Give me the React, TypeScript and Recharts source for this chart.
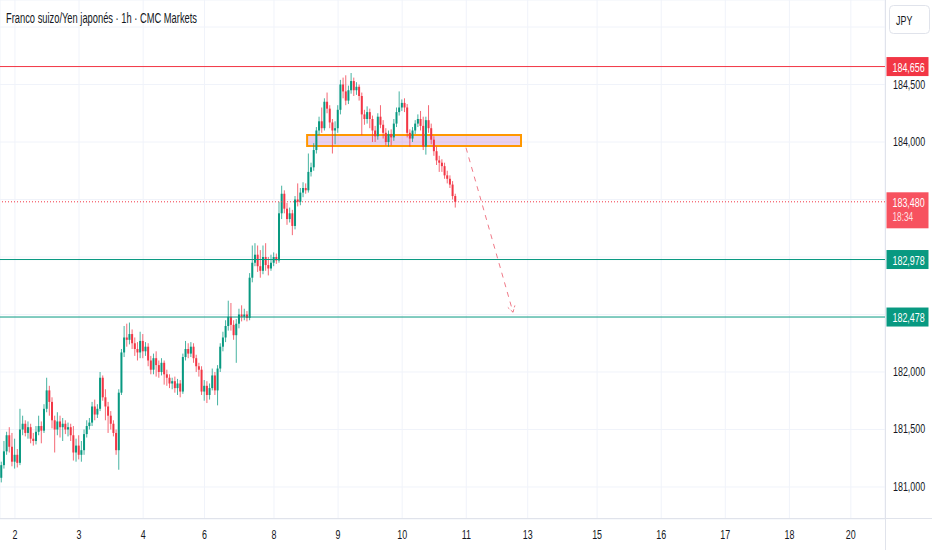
import { Bar, CartesianGrid, ComposedChart, ReferenceArea, ReferenceLine, XAxis, YAxis } from 'recharts';

// hourly candles, [open, high, low, close], grouped by session
const sessionDay1Tail = [
  [181.08, 181.22, 181.04, 181.19],
  [181.19, 181.4, 181.16, 181.31],
  [181.31, 181.48, 181.28, 181.45],
  [181.45, 181.52, 181.3, 181.35],
  [181.35, 181.47, 181.18, 181.22],
];

const sessionDay2 = [
  [181.22, 181.42, 181.16, 181.28],
  [181.28, 181.33, 181.17, 181.21],
  [181.21, 181.68, 181.19, 181.5],
  [181.5, 181.62, 181.45, 181.55],
  [181.55, 181.58, 181.44, 181.47],
  [181.47, 181.57, 181.42, 181.52],
  [181.52, 181.55, 181.38, 181.42],
  [181.42, 181.47, 181.36, 181.4],
  [181.4, 181.53, 181.37, 181.48],
  [181.48, 181.62, 181.45, 181.53],
  [181.53, 181.57, 181.38, 181.49],
  [181.49, 181.72, 181.47, 181.68],
  [181.68, 181.95, 181.65, 181.84],
  [181.84, 181.88, 181.62, 181.74],
  [181.74, 181.78, 181.51, 181.58],
  [181.58, 181.62, 181.3, 181.5],
  [181.5, 181.65, 181.45, 181.57],
  [181.57, 181.62, 181.43, 181.52],
  [181.52, 181.6, 181.4, 181.55],
  [181.55, 181.58, 181.46, 181.5],
  [181.5, 181.56, 181.44, 181.52],
  [181.52, 181.55, 181.4, 181.45],
  [181.45, 181.53, 181.23, 181.3],
  [181.3, 181.42, 181.22, 181.36],
];

const sessionDay3 = [
  [181.36, 181.45, 181.24, 181.28],
  [181.28, 181.4, 181.22, 181.32],
  [181.32, 181.5, 181.28, 181.46],
  [181.46, 181.58, 181.43, 181.53],
  [181.53, 181.6, 181.5, 181.56],
  [181.56, 181.74, 181.53, 181.7],
  [181.7, 181.76, 181.58, 181.63],
  [181.63, 181.72, 181.6, 181.68],
  [181.68, 182.0, 181.66, 181.95],
  [181.95, 181.97, 181.75, 181.78],
  [181.78, 181.85, 181.58, 181.7],
  [181.7, 181.74, 181.47, 181.62],
  [181.62, 181.66, 181.5, 181.55],
  [181.55, 181.58, 181.44, 181.47],
  [181.47, 181.5, 181.28, 181.32],
  [181.32, 181.85, 181.15, 181.82],
  [181.82, 182.2, 181.8, 182.17],
  [182.17, 182.4, 182.13, 182.3],
  [182.3, 182.42, 182.22, 182.28],
  [182.28, 182.43, 182.24, 182.33],
  [182.33, 182.37, 182.2, 182.25],
  [182.25, 182.3, 182.14, 182.2],
  [182.2, 182.26, 182.1, 182.17],
  [182.17, 182.35, 182.12, 182.27],
];

const sessionDay4 = [
  [182.27, 182.33, 182.12, 182.18],
  [182.18, 182.26, 182.14, 182.22],
  [182.22, 182.25, 182.05, 182.1],
  [182.1, 182.14, 181.98, 182.02],
  [182.02, 182.16, 181.98, 182.12],
  [182.12, 182.18, 181.96, 182.06],
  [182.06, 182.1, 181.95, 182.0],
  [182.0, 182.12, 181.97, 182.08],
  [182.08, 182.1, 181.89, 181.98],
  [181.98, 182.02, 181.88, 181.95],
  [181.95, 181.98, 181.86, 181.9],
  [181.9, 181.95, 181.85, 181.92],
  [181.92, 181.96, 181.82, 181.86],
  [181.86, 181.94, 181.8, 181.9],
  [181.9, 181.93, 181.78, 181.83],
  [181.83, 182.16, 181.81, 182.13],
  [182.13, 182.27, 182.1, 182.2],
  [182.2, 182.25, 182.12, 182.16],
  [182.16, 182.26, 182.13, 182.22],
  [182.22, 182.25, 182.08, 182.12],
  [182.12, 182.15, 182.0, 182.05],
  [182.05, 182.08, 181.96, 182.02],
  [182.02, 182.05, 181.8, 181.83],
];

const sessionDay6 = [
  [181.83, 181.93, 181.75, 181.88],
  [181.88, 181.92, 181.73, 181.8],
  [181.8, 181.9, 181.76, 181.86],
  [181.86, 182.03, 181.84, 181.97],
  [181.97, 182.0, 181.8, 181.84],
  [181.84, 182.06, 181.71, 182.03],
  [182.03, 182.25, 182.0, 182.22],
  [182.22, 182.35, 182.18, 182.3],
  [182.3, 182.45, 182.26, 182.4],
  [182.4, 182.62, 182.36, 182.48],
  [182.48, 182.6, 182.36, 182.41],
  [182.41, 182.45, 182.28, 182.32],
  [182.32, 182.46, 182.08, 182.42],
  [182.42, 182.55, 182.38, 182.5],
  [182.5, 182.58, 182.44, 182.48],
  [182.48, 182.55, 182.45, 182.5],
  [182.5, 182.53, 182.44, 182.47],
  [182.47, 182.86, 182.45, 182.82],
  [182.82, 183.1, 182.78, 182.95],
  [182.95, 183.12, 182.92, 183.02],
  [183.02, 183.1, 182.87, 182.92],
  [182.92, 183.06, 182.82, 182.88],
  [182.88, 183.1, 182.85, 183.0],
  [183.0, 183.12, 182.88, 182.93],
  [182.93, 183.0, 182.84, 182.9],
  [182.9, 183.02, 182.88, 182.95],
];

const sessionDay8 = [
  [182.95, 183.04, 182.92, 183.0],
  [183.0, 183.03, 182.94, 182.97],
  [182.97, 183.48, 182.95, 183.38],
  [183.38, 183.62, 183.33, 183.55],
  [183.55, 183.58, 183.38, 183.42],
  [183.42, 183.47, 183.28, 183.33],
  [183.33, 183.43, 183.3, 183.38],
  [183.38, 183.41, 183.19, 183.27],
  [183.27, 183.53, 183.24, 183.5],
  [183.5, 183.64, 183.44, 183.48],
  [183.48, 183.6, 183.45, 183.56],
  [183.56, 183.65, 183.52, 183.6],
  [183.6, 183.64, 183.55, 183.58],
  [183.58, 183.9, 183.56, 183.74],
  [183.74, 183.82, 183.7, 183.78],
  [183.78, 183.99, 183.75, 183.93],
  [183.93, 184.13, 183.9, 184.1],
  [184.1, 184.22, 184.06, 184.18],
  [184.18, 184.3, 184.08, 184.12],
  [184.12, 184.38, 184.1, 184.35],
  [184.35, 184.43, 184.25, 184.29],
  [184.29, 184.32, 184.12, 184.17],
  [184.17, 184.2, 183.9, 184.1],
  [184.1, 184.18, 183.98, 184.12],
];

const sessionDay9 = [
  [184.12, 184.32, 184.08, 184.28],
  [184.28, 184.54, 184.24, 184.5],
  [184.5, 184.56, 184.38, 184.44],
  [184.44, 184.58, 184.32, 184.36],
  [184.36, 184.49, 184.33, 184.45],
  [184.45, 184.6, 184.42, 184.53],
  [184.53, 184.56, 184.4, 184.45],
  [184.45, 184.52, 184.41, 184.48],
  [184.48, 184.5, 184.36, 184.4],
  [184.4, 184.43, 184.06, 184.24],
  [184.24, 184.28, 184.15, 184.2],
  [184.2, 184.31, 184.16, 184.26],
  [184.26, 184.29, 184.12, 184.2],
  [184.2, 184.23, 184.0, 184.1],
  [184.1, 184.14, 184.0, 184.05],
  [184.05, 184.25, 184.02, 184.22],
  [184.22, 184.32, 184.12, 184.15],
  [184.15, 184.19, 184.03, 184.08],
  [184.08, 184.12, 183.97, 184.0],
  [184.0, 184.1, 183.96, 184.07],
  [184.07, 184.11, 183.97, 184.04],
  [184.04, 184.2, 184.01, 184.16],
  [184.16, 184.3, 184.13, 184.26],
  [184.26, 184.44, 184.23, 184.3],
];

const sessionDay10 = [
  [184.3, 184.37, 184.27, 184.34],
  [184.34, 184.38, 184.26, 184.3],
  [184.3, 184.33, 184.04, 184.08],
  [184.08, 184.11, 183.96, 184.03],
  [184.03, 184.13, 184.0, 184.1],
  [184.1, 184.19, 184.07, 184.16],
  [184.16, 184.24, 184.13, 184.2],
  [184.2, 184.27, 184.1, 184.14],
  [184.14, 184.22, 183.93, 183.96],
  [183.96, 184.22, 183.89, 184.19],
  [184.19, 184.32, 184.08, 184.12],
  [184.12, 184.16, 183.98, 184.02],
  [184.02, 184.05, 183.88, 183.92],
  [183.92, 183.96, 183.8, 183.84],
  [183.84, 183.88, 183.74, 183.82],
  [183.82, 183.85, 183.74, 183.79],
  [183.79, 183.82, 183.68, 183.71],
  [183.71, 183.75, 183.64, 183.68],
  [183.68, 183.71, 183.6, 183.63],
  [183.63, 183.66, 183.5, 183.53],
  [183.53, 183.55, 183.43, 183.48],
];

// bar index where each day label sits (bar 0 = first hour of day 2)
const dayTickIndex = [0, 24, 48, 71, 97, 121, 145, 169, 192, 218, 242, 266, 290, 313];
const dayTickLabels = ['2', '3', '4', '6', '8', '9', '10', '11', '13', '15', '16', '17', '18', '20'];
const priceTicks = [181, 181.5, 182, 182.5, 183, 183.5, 184, 184.5, 185];
const hiddenPriceTicks = [182.5, 183, 183.5, 185];

const resistanceLevel = 184.656;
const upperSupport = 182.978;
const lowerSupport = 182.478;
const lastPrice = 183.48;
const barCountdown = '18:34';
const zoneBars = [109.4, 189.5];
const zonePrices = [183.965, 184.061];
const projectionFrom = { bar: 168.9, price: 183.95 };
const projectionTo = { bar: 186.5, price: 182.52 };

const UP = '#089981';
const DOWN = '#f23645';
const FONT = "'Liberation Sans', Arial, sans-serif";
const SQUEEZE = 0.66;
const LABEL_SIZE = 13.5;

const candles = [
  ...sessionDay1Tail,
  ...sessionDay2,
  ...sessionDay3,
  ...sessionDay4,
  ...sessionDay6,
  ...sessionDay8,
  ...sessionDay9,
  ...sessionDay10,
];

const rows = candles.map(([o, h, l, c], k) => ({ bar: k - sessionDay1Tail.length, o, h, l, c, range: [l, h] }));

const fmt = (value: number) => value.toFixed(3).replace('.', ',');

const Candle = (props: any) => {
  const { x, y, width, height, payload } = props;
  const { o, h, l, c } = payload;
  const color = c >= o ? UP : DOWN;
  const top = Math.min(y, y + height);
  const span = Math.abs(height);
  const perUnit = h === l ? 0 : span / (h - l);
  const cx = x + width / 2;
  const bodyTop = top + (h - Math.max(o, c)) * perUnit;
  const bodyBottom = top + (h - Math.min(o, c)) * perUnit;
  return (
    <g>
      <line x1={cx} x2={cx} y1={top} y2={top + span} stroke={color} strokeOpacity={0.75} strokeWidth={1} />
      <rect x={cx - 1} y={bodyTop} width={2} height={Math.max(1, bodyBottom - bodyTop)} fill={color} />
    </g>
  );
};

// horizontal level drawn by hand so its colour is never mixed with anything else
const levelShape = (color: string, dash?: string) => (p: any) => (
  <line x1={p.x1} x2={p.x2} y1={p.y1} y2={p.y2} stroke={color} strokeWidth={1} strokeDasharray={dash} fill="none" />
);

const PriceTick = ({ x, y, payload }: any) => {
  if (hiddenPriceTicks.includes(payload.value)) return null;
  return (
    <g transform={`translate(${x},${y + 4}) scale(${SQUEEZE},1)`}>
      <text fill="#131722" fontSize={LABEL_SIZE} fontFamily={FONT}>
        {fmt(payload.value)}
      </text>
    </g>
  );
};

const DayTick = ({ x, y, payload }: any) => (
  <g transform={`translate(${x},${y + 12}) scale(${SQUEEZE},1)`}>
    <text fill="#131722" fontSize={LABEL_SIZE} fontFamily={FONT} textAnchor="middle">
      {dayTickLabels[dayTickIndex.indexOf(payload.value)]}
    </text>
  </g>
);

const PriceTag = ({ viewBox, text, sub, fill }: any) => {
  const left = viewBox.x + viewBox.width + 1.5;
  const y = viewBox.y;
  return (
    <g>
      <rect x={left} y={y - 9.5} width={42} height={sub ? 36 : 19} fill={fill} />
      <g transform={`translate(${left + 6},${y + 5}) scale(${SQUEEZE},1)`}>
        <text fill="#ffffff" fontSize={LABEL_SIZE} fontFamily={FONT}>
          {text}
        </text>
      </g>
      {sub && (
        <g transform={`translate(${left + 6},${y + 19}) scale(${SQUEEZE},1)`}>
          <text fill="#ffffff" fillOpacity={0.85} fontSize={12.5} fontFamily={FONT}>
            {sub}
          </text>
        </g>
      )}
    </g>
  );
};

const ProjectionArrow = ({ x1, y1, x2, y2 }: any) => {
  const angle = Math.atan2(y2 - y1, x2 - x1);
  const head = 7;
  const a1 = angle + Math.PI - 0.55;
  const a2 = angle + Math.PI + 0.55;
  const color = '#f07a88';
  return (
    <g>
      <line x1={x1} y1={y1} x2={x2} y2={y2} stroke={color} strokeWidth={1} strokeDasharray="5 5" />
      <line x1={x2} y1={y2} x2={x2 + head * Math.cos(a1)} y2={y2 + head * Math.sin(a1)} stroke={color} strokeWidth={1} strokeDasharray="3 2" />
      <line x1={x2} y1={y2} x2={x2 + head * Math.cos(a2)} y2={y2 + head * Math.sin(a2)} stroke={color} strokeWidth={1} strokeDasharray="3 2" />
    </g>
  );
};

export default function App() {
  return (
    <div style={{ position: 'relative', width: 932, height: 550, background: '#ffffff' }}>
      <style>{'body{margin:0}'}</style>
      <ComposedChart width={932} height={550} data={rows} margin={{ top: 0, right: 0, bottom: 0, left: 0 }}>
        <CartesianGrid stroke="#f0f3fa" strokeWidth={1} />
        <XAxis
          dataKey="bar"
          type="number"
          domain={[-5.6, 325.8]}
          ticks={dayTickIndex}
          tick={<DayTick />}
          tickLine={false}
          axisLine={false}
          height={31}
          interval={0}
          allowDataOverflow
        />
        <YAxis
          orientation="right"
          type="number"
          domain={[180.7217, 185.2348]}
          ticks={priceTicks}
          tick={<PriceTick />}
          tickLine={false}
          axisLine={false}
          width={47}
          interval={0}
          allowDataOverflow
        />
        <ReferenceArea
          x1={zoneBars[0]}
          x2={zoneBars[1]}
          y1={zonePrices[0]}
          y2={zonePrices[1]}
          fill="#ba68c8"
          fillOpacity={0.3}
          stroke="#ff9800"
          strokeWidth={2}
          strokeOpacity={1}
        />
        <Bar dataKey="range" barSize={2} shape={<Candle />} isAnimationActive={false} />
        <ReferenceLine
          y={resistanceLevel}
          shape={levelShape(DOWN)}
          label={<PriceTag text={fmt(resistanceLevel)} fill={DOWN} />}
        />
        <ReferenceLine
          y={upperSupport}
          shape={levelShape(UP)}
          label={<PriceTag text={fmt(upperSupport)} fill={UP} />}
        />
        <ReferenceLine
          y={lowerSupport}
          shape={levelShape(UP)}
          label={<PriceTag text={fmt(lowerSupport)} fill={UP} />}
        />
        <ReferenceLine
          y={lastPrice}
          shape={levelShape(DOWN, '1 2')}
          label={<PriceTag text={fmt(lastPrice)} sub={barCountdown} fill="#f7525f" />}
        />
        <ReferenceLine
          segment={[
            { x: projectionFrom.bar, y: projectionFrom.price },
            { x: projectionTo.bar, y: projectionTo.price },
          ]}
          shape={(p: any) => <ProjectionArrow {...p} />}
        />
      </ComposedChart>
      <svg width={932} height={550} style={{ position: 'absolute', left: 0, top: 0, pointerEvents: 'none' }}>
        <line x1={0} x2={932} y1={518.5} y2={518.5} stroke="#e0e3eb" />
        <line x1={885.5} x2={885.5} y1={0} y2={550} stroke="#e0e3eb" />
        <text
          x={6}
          y={23}
          fill="#131722"
          fontSize={14}
          fontFamily={FONT}
          textLength={191}
          lengthAdjust="spacingAndGlyphs"
        >
          Franco suizo/Yen japonés · 1h · CMC Markets
        </text>
        <rect x={889.5} y={5.5} width={40} height={28} rx={4} fill="#ffffff" stroke="#e0e3eb" />
        <g transform={`translate(896,25) scale(${SQUEEZE},1)`}>
          <text fill="#131722" fontSize={LABEL_SIZE} fontFamily={FONT}>
            JPY
          </text>
        </g>
      </svg>
    </div>
  );
}
